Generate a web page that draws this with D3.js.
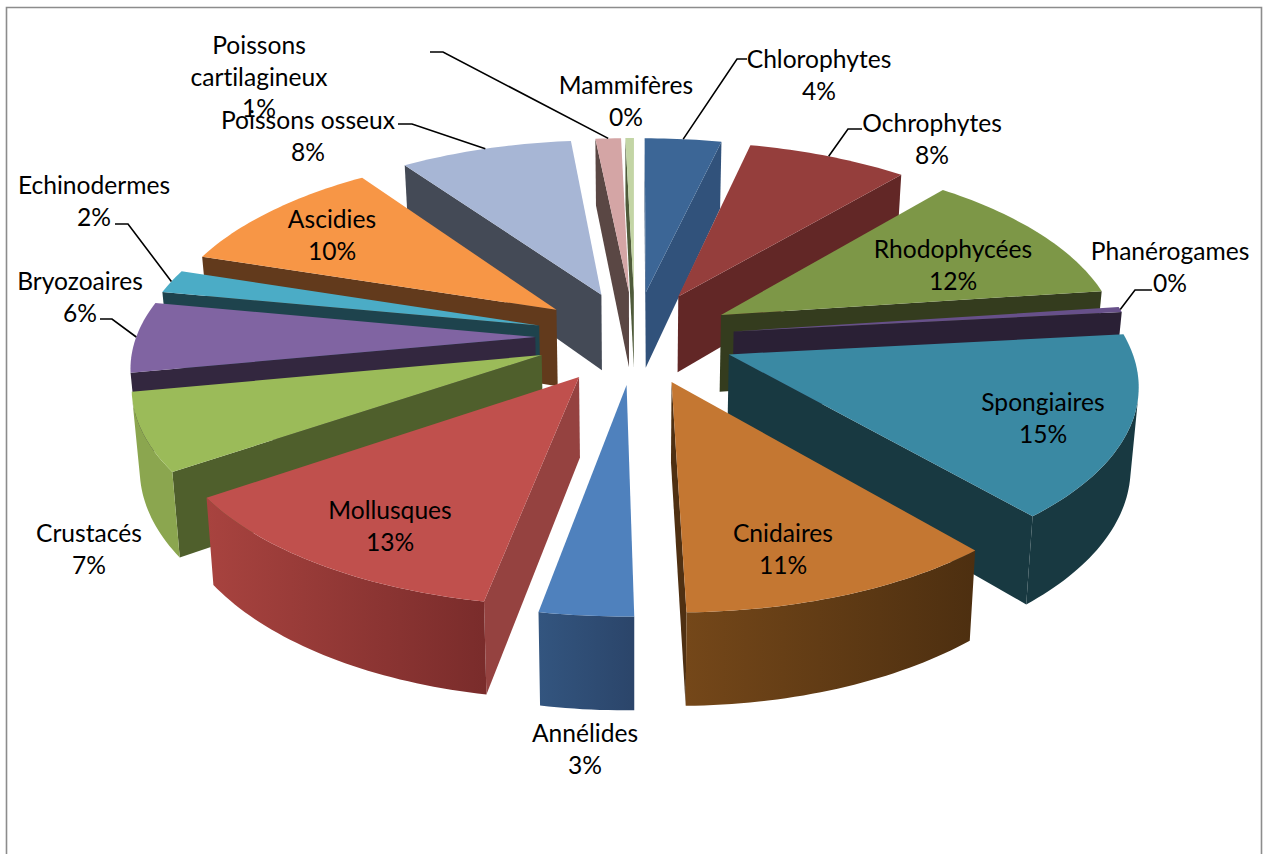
<!DOCTYPE html>
<html lang="fr">
<head>
<meta charset="utf-8">
<title>Répartition des groupes</title>
<script src="https://cdn.jsdelivr.net/npm/d3@7"></script>
<style>
html,body{margin:0;padding:0;background:#fff;}
svg{display:block;}
text{font-family:Lato,"Open Sans",sans-serif;font-size:24.6px;fill:#000;text-anchor:middle;font-variant-ligatures:none;}
</style>
</head>
<body>
<svg id="chart" width="1264" height="854"></svg>
<script>
// Taxonomic groups, clockwise from twelve o'clock
const groups = ["Chlorophytes","Ochrophytes","Rhodophycées","Phanérogames","Spongiaires","Cnidaires","Annélides","Mollusques","Crustacés","Bryozoaires","Echinodermes","Ascidies","Poissons osseux","Poissons cartilagineux","Mammifères"];
const shares = [3.6,7.55,11.7,0.45,15.45,10.95,3.2,12.55,6.55,6.0,2.0,10.3,8.1,1.2,0.4];

// Face colours per group
const topColors  = ["#3c6696","#953e3c","#7d9747","#67508a","#3a89a3","#c47732","#4f81bd","#c0504d","#9bbb59","#8064a2","#4bacc6","#f79646","#a7b6d5","#d4a5a5","#c3d5a5"];
const cutColors  = ["#31527b","#622726","#343c1e","#2a2035","#183941","#4f3012","#2f4d75","#954240","#4f5f2c","#33273f","#1e434d","#623a1c","#444a56","#5a4744","#4f5b3a"];
const wallFrom   = ["#31527b","#622726","#343c1e","#2a2035","#183941","#744719","#33557f","#a8433f","#8ba64f","#6c5489","#3d8ea3","#623a1c","#444a56","#5a4744","#4f5b3a"];
const wallTo     = ["#31527b","#622726","#343c1e","#2a2035","#183941","#4d2f10","#2b456a","#7a2c2b","#8ba64f","#6c5489","#3d8ea3","#623a1c","#444a56","#5a4744","#4f5b3a"];

// Label centres, one [x, y] per group
const labelAnchors = [
  [819,60],[932,124],[953,250],[1170,252],[1043,403],[783,534],[585,734],
  [390,511],[89,534],[80,282],[94,186],[332,220],[308,121],[259,46],[626,86]
];
// Leader elbows: label end, bend, then the rim position inside the slice (0 to 1)
const leaders = [
  {i:0,  pts:[[747,59],[737,59]],   at:0.5},
  {i:1,  pts:[[862,129],[848,129]], at:0.5},
  {i:3,  pts:[[1152,290],[1135,290]], at:0.5},
  {i:9,  pts:[[100,319],[112,319]], at:0.5},
  {i:10, pts:[[115,224],[128,224]], at:0.5},
  {i:12, pts:[[398,124],[412,124]], at:0.5},
  {i:13, pts:[[430,52],[443,52]],   at:0.5}
];

// Perspective view of the exploded disc; lower edges converge slightly towards the centre
const view = {cx:635, cy:337, R:399, kR:186, p:0.135, explode:0.25, h:78, converge:0.984};
const svg = d3.select("#chart");
const defs = svg.append("defs");

function project(theta, r, mid, drop){
  const X = view.explode*Math.sin(mid) + r*Math.sin(theta);
  const Y = view.explode*Math.cos(mid) + r*Math.cos(theta);
  const s = 1/(1+view.p*Y);
  const dx = view.R*X*s*(drop ? view.converge : 1);
  return [view.cx + dx, view.cy - view.kR*Y*s + (drop ? view.h*s : 0)];
}

const arcs = d3.pie().sort(null).value(d => d)(shares);
const total = d3.sum(shares);
const path = d3.line();

// Chart frame, open along the lower edge
svg.append("path").attr("d","M6.5,854V7.5H1261.5V854")
  .attr("fill","none").attr("stroke","#8c8c8c").attr("stroke-width",1.6);

const slices = arcs.map((a,i) => {
  const mid = (a.startAngle+a.endAngle)/2;
  const span = a.endAngle-a.startAngle;
  const n = Math.max(4, Math.ceil(span/0.02));
  const thetas = d3.range(n+1).map(j => a.startAngle + span*j/n);
  return {i, mid, thetas,
    apex: project(0,0,mid,false), apexB: project(0,0,mid,true),
    rim: thetas.map(t => project(t,1,mid,false)),
    rimB: thetas.map(t => project(t,1,mid,true))};
});

// Far slices first so that nearer ones paint over them
const order = slices.slice().sort((a,b) => Math.cos(b.mid)-Math.cos(a.mid));

order.forEach(s => {
  const g = svg.append("g");
  const first = 0, last = s.rim.length-1;
  const cutA = [s.apex, s.rim[first], s.rimB[first], s.apexB];
  const cutB = [s.rim[last], s.apex, s.apexB, s.rimB[last]];
  [cutA,cutB].filter(q => d3.polygonArea(q) > 0).forEach(q => {
    g.append("path").attr("d",path(q)+"Z").attr("fill",cutColors[s.i]);
  });
  // Outer wall: only the front half of the disc, and only the stretch that faces the viewer
  const keep = Math.cos(s.mid) < -0.2
    ? d3.range(last).filter(j => d3.polygonArea([s.rim[j],s.rim[j+1],s.rimB[j+1],s.rimB[j]]) > 0)
    : [];
  if (keep.length){
    const lo = d3.min(keep), hi = d3.max(keep)+1;
    const up = s.rim.slice(lo,hi+1), down = s.rimB.slice(lo,hi+1).reverse();
    const xs = up.map(p => p[0]);
    const id = "wall"+s.i;
    const lg = defs.append("linearGradient").attr("id",id).attr("gradientUnits","userSpaceOnUse")
      .attr("x1",d3.min(xs)).attr("x2",d3.max(xs)).attr("y1",0).attr("y2",0);
    lg.append("stop").attr("offset",0).attr("stop-color",wallFrom[s.i]);
    lg.append("stop").attr("offset",1).attr("stop-color",wallTo[s.i]);
    g.append("path").attr("d",path(up.concat(down))+"Z").attr("fill",`url(#${id})`);
  }
  g.append("path").attr("d",path([s.apex].concat(s.rim))+"Z").attr("fill",topColors[s.i]);
});

// Leader lines
leaders.forEach(l => {
  const a = arcs[l.i], s = slices[l.i];
  const end = project(a.startAngle+(a.endAngle-a.startAngle)*l.at,1,s.mid,false);
  svg.append("path").attr("d",path(l.pts.concat([end])))
    .attr("fill","none").attr("stroke","#000").attr("stroke-width",1.6);
});

// Labels: name on one or two lines, then the rounded percentage
const lineGap = 31.5;
groups.forEach((name,i) => {
  const lines = name === "Poissons cartilagineux" ? ["Poissons","cartilagineux"] : [name];
  lines.push(Math.round(shares[i]/total*100)+"%");
  const [x,y] = labelAnchors[i];
  lines.forEach((t,j) => {
    svg.append("text").attr("x",x).attr("y",y+j*lineGap+8).text(t);
  });
});
</script>
</body>
</html>
